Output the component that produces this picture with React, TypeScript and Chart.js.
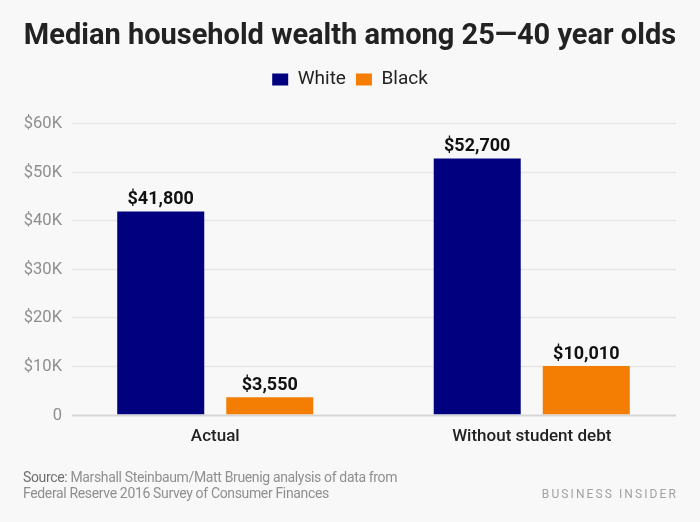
import React, { useEffect, useRef } from 'react';
import { Chart, registerables } from 'chart.js';

Chart.register(...registerables);

const categories = ['Actual', 'Without student debt'];
const seriesNames = ['White', 'Black'];
const whiteValues = [41800, 52700];
const blackValues = [3550, 10010];
const yTickValues = [0, 10000, 20000, 30000, 40000, 50000, 60000];
const yTickLabels = ['0', '$10K', '$20K', '$30K', '$40K', '$50K', '$60K'];
const titleText = 'Median household wealth among 25\u201440 year olds';
const sourceLabel = 'Source:';
const sourceLine1 = 'Marshall Steinbaum/Matt Bruenig analysis of data from';
const sourceLine2 = 'Federal Reserve 2016 Survey of Consumer Finances';
const brandText = 'BUSINESS INSIDER';

const BG = '#f8f8f8';
const NAVY = '#01017f';
const ORANGE = '#f47e03';
const FONT = 'Roboto';

const fmt = (v: number) => '$' + v.toLocaleString('en-US');

const decorPlugin = {
  id: 'decor',
  beforeInit(chart: any) {
    const legend = chart.legend;
    if (legend) {
      const origFit = legend.fit.bind(legend);
      legend.fit = function () {
        origFit();
        this.height += 24;
      };
    }
  },
  beforeDraw(chart: any) {
    const ctx = chart.ctx;
    ctx.save();
    ctx.fillStyle = BG;
    ctx.fillRect(0, 0, chart.width, chart.height);
    // title
    ctx.font = `bold 29px ${FONT}`;
    ctx.textAlign = 'center';
    ctx.textBaseline = 'alphabetic';
    ctx.fillStyle = '#222222';
    (ctx as any).letterSpacing = '0px';
    ctx.fillText(titleText, 350, 44);
    // footer
    (ctx as any).letterSpacing = '-0.35px';
    ctx.textAlign = 'left';
    ctx.font = `14px ${FONT}`;
    ctx.fillStyle = '#6f6f6f';
    ctx.fillText(sourceLabel, 23, 482);
    const w = ctx.measureText(sourceLabel + ' ').width;
    ctx.fillStyle = '#8f8f8f';
    ctx.fillText(sourceLine1, 23 + w, 482);
    ctx.fillText(sourceLine2, 23, 498);
    (ctx as any).letterSpacing = '2.1px';
    ctx.font = `12px ${FONT}`;
    ctx.fillStyle = '#a2a2a2';
    ctx.textAlign = 'right';
    ctx.fillText(brandText, 678, 498);
    ctx.restore();
  },
  beforeDatasetsDraw(chart: any) {
    const ctx = chart.ctx;
    const y = chart.scales.y;
    ctx.save();
    yTickValues.forEach((v, i) => {
      const py = Math.round(y.getPixelForValue(v)) + 0.5;
      ctx.strokeStyle = v === 0 ? '#d6d6d6' : '#e6e6e6';
      ctx.lineWidth = v === 0 ? 2 : 1.5;
      ctx.beginPath();
      ctx.moveTo(72, py);
      ctx.lineTo(676, py);
      ctx.stroke();
      ctx.font = `16.5px ${FONT}`;
      ctx.fillStyle = '#8e8e8e';
      ctx.textAlign = 'right';
      ctx.textBaseline = 'middle';
      ctx.fillText(yTickLabels[i], 62, py);
    });
    ctx.restore();
  },
  afterDatasetsDraw(chart: any) {
    const ctx = chart.ctx;
    ctx.save();
    ctx.font = `bold 18px ${FONT}`;
    ctx.fillStyle = '#111111';
    ctx.textAlign = 'center';
    ctx.textBaseline = 'alphabetic';
    chart.data.datasets.forEach((ds: any, di: number) => {
      const meta = chart.getDatasetMeta(di);
      meta.data.forEach((bar: any, i: number) => {
        ctx.fillText(fmt(ds.data[i]), bar.x, bar.y - 7);
      });
    });
    ctx.restore();
  },
};

export default function App() {
  const ref = useRef<HTMLCanvasElement | null>(null);
  useEffect(() => {
    if (!ref.current) return;
    const chart = new Chart(ref.current, {
      type: 'bar',
      data: {
        labels: categories,
        datasets: [
          {
            label: seriesNames[0],
            data: whiteValues,
            backgroundColor: NAVY,
            categoryPercentage: 0.689,
            barPercentage: 0.798,
          },
          {
            label: seriesNames[1],
            data: blackValues,
            backgroundColor: ORANGE,
            categoryPercentage: 0.689,
            barPercentage: 0.798,
          },
        ],
      },
      options: {
        responsive: false,
        animation: false,
        layout: { padding: { top: 60, left: 10, right: 10, bottom: 63 } },
        scales: {
          x: {
            offset: true,
            grid: { display: false, drawTicks: false },
            border: { display: false },
            ticks: {
              color: '#222222',
              padding: 12,
              font: { family: FONT, size: 17, weight: '500' },
            },
          },
          y: {
            display: true,
            min: 0,
            max: 60000,
            grid: { display: false, drawTicks: false },
            border: { display: false },
            ticks: { display: false },
            afterFit: (scale: any) => {
              scale.width = 47;
            },
          },
        },
        plugins: {
          legend: {
            position: 'top',
            labels: {
              boxWidth: 16,
              boxHeight: 12,
              padding: 10,
              color: '#222222',
              font: { family: FONT, size: 19 },
            },
          },
          title: { display: false },
          tooltip: { enabled: false },
        },
      },
      plugins: [decorPlugin],
    });
    return () => chart.destroy();
  }, []);
  return (
    <div style={{ position: 'fixed', left: 0, top: 0, width: 700, height: 522, background: BG }}>
      <canvas ref={ref} width={700} height={522} />
    </div>
  );
}
